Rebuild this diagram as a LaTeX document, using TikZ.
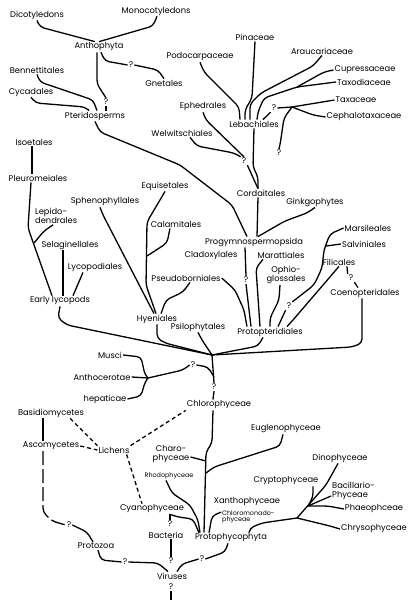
\documentclass[tikz,border=0pt]{standalone}
\usepackage{fontspec}
\setmainfont{Poppins}

\begin{document}
\begin{tikzpicture}[
  x=1pt, y=-1pt,
  lbl/.style={inner sep=1pt, font=\fontsize{8.3}{8.8}\selectfont, align=center},
  sml/.style={lbl, font=\fontsize{6.4}{6.9}\selectfont},
  ln/.style={line width=1.3pt, rounded corners=4pt},
  dsh/.style={line width=1.3pt, dash pattern=on 4pt off 3pt},
  lds/.style={ln, dash pattern=on 14pt off 4pt}
]
\useasboundingbox[fill=white] (0,0) rectangle (414,600);
\node[lbl] (dicot) at (37,15) {Dicotyledons};
\node[lbl] (monoc) at (156,11) {Monocotyledons};
\node[lbl] (antho) at (99,47) {Anthophyta};
\node[lbl] (qgnet) at (131,65) {?};
\node[lbl] (gnet) at (164,83) {Gnetales};
\node[lbl] (benn) at (37,70) {Bennettitales};
\node[lbl] (cycad) at (31,92) {Cycadales};
\node[lbl] (qpter) at (106,102) {?};
\node[lbl] (pter) at (95,116) {Pteridosperms};
\node[lbl] (podo) at (200,57) {Podocarpaceae};
\node[lbl] (pina) at (255,37) {Pinaceae};
\node[lbl] (arau) at (322,51) {Araucariaceae};
\node[lbl] (cupr) at (365,70) {Cupressaceae};
\node[lbl] (taxod) at (364,82) {Taxodiaceae};
\node[lbl] (taxa) at (356,100) {Taxaceae};
\node[lbl] (ceph) at (364,117) {Cephalotaxaceae};
\node[lbl] (qleba) at (274,108) {?};
\node[lbl] (qtaxa) at (279,153) {?};
\node[lbl] (leba) at (254,124) {Lebachiales};
\node[lbl] (ephe) at (203,107) {Ephedrales};
\node[lbl] (welw) at (182,133) {Welwitschiales};
\node[lbl] (qcord) at (244,161) {?};
\node[lbl] (cord) at (261,193) {Cordaitales};
\node[lbl] (gink) at (315,202) {Ginkgophytes};
\node[lbl] (isoet) at (34,142) {Isoetales};
\node[lbl] (pleur) at (38,178) {Pleuromeiales};
\node[lbl, align=left, anchor=west] (lepid) at (34,216) {Lepido-\\dendrales};
\node[lbl] (selag) at (70,245) {Selaginellales};
\node[lbl] (lycop) at (95,267) {Lycopodiales};
\node[lbl] (early) at (60,301) {Early lycopods};
\node[lbl] (sphen) at (105,202) {Sphenophyllales};
\node[lbl] (equis) at (165,186) {Equisetales};
\node[lbl] (calam) at (176,224) {Calamitales};
\node[lbl] (pseud) at (186,278) {Pseudoborniales};
\node[lbl] (hyen) at (157,319) {Hyeniales};
\node[lbl] (psilo) at (198,327) {Psilophytales};
\node[lbl] (progy) at (254,242) {Progymnospermopsida};
\node[lbl] (clado) at (211,255) {Cladoxylales};
\node[lbl] (maratt) at (281,255) {Marattiales};
\node[lbl] (ophio) at (286,275) {Ophio-\\glossales};
\node[lbl] (qprog) at (246,280) {?};
\node[lbl] (marsi) at (368,228) {Marsileales};
\node[lbl] (salvi) at (364,244) {Salviniales};
\node[lbl] (filic) at (339,262) {Filicales};
\node[lbl] (qfilic) at (351,278) {?};
\node[lbl] (coeno) at (365,293) {Coenopteridales};
\node[lbl] (qmars) at (289,306) {?};
\node[lbl] (proto) at (270,332) {Protopteridiales};
\node[lbl] (musci) at (110,355) {Musci};
\node[lbl] (antc) at (102,377) {Anthocerotae};
\node[lbl] (hepat) at (105,399) {hepaticae};
\node[lbl] (qbryo) at (193,365) {?};
\node[lbl] (qchlo) at (214,387) {?};
\node[lbl] (chloro) at (219,405) {Chlorophyceae};
\node[lbl] (basid) at (51,413) {Basidiomycetes};
\node[lbl] (ascom) at (51,446) {Ascomycetes};
\node[lbl] (lich) at (114,450) {Lichens};
\node[lbl] (charo) at (171,454) {Charo-\\phyceae};
\node[sml] (rhodo) at (169,476) {Rhodophyceae};
\node[lbl] (eugl) at (286,429) {Euglenophyceae};
\node[lbl] (dino) at (340,458) {Dinophyceae};
\node[lbl] (crypt) at (286,481) {Cryptophyceae};
\node[lbl, align=left, anchor=west] (bacil) at (331,491) {Bacillario-\\Phyceae};
\node[lbl] (xanth) at (247,502) {Xanthophyceae};
\node[sml, align=left, anchor=west] (chlmo) at (221,517) {Chloromonado-\\phyceae};
\node[lbl] (phaeo) at (374,509) {Phaeophceae};
\node[lbl] (chrys) at (374,529) {Chrysophyceae};
\node[lbl] (cyano) at (152,509) {Cyanophyceae};
\node[lbl] (qbact) at (170,524) {?};
\node[lbl] (bact) at (166,535) {Bacteria};
\node[lbl] (proph) at (231,538) {Protophycophyta};
\node[lbl] (qprot) at (69,525) {?};
\node[lbl] (protz) at (96,546) {Protozoa};
\node[lbl] (qvir1) at (125,562) {?};
\node[lbl] (qvir2) at (171,561) {?};
\node[lbl] (qvir3) at (202,559) {?};
\node[lbl] (vir) at (172,576) {Viruses};
\node[lbl] (qbot) at (171,587) {?};
\coordinate (j0) at (212,355);
\coordinate (jtax) at (292,107);
\coordinate (jcup) at (297,87);
\coordinate (jlyc) at (34,243);
\coordinate (jequ) at (147,256);
\coordinate (jsal) at (326,246);
\coordinate (jbryo) at (148,378);
\coordinate (jalg) at (297,518);
\coordinate (jcry) at (308,506);
\coordinate (tch) at (206,461);
\coordinate (teu) at (206,473);
\coordinate (bot) at (171,600);
\draw[ln] (dicot.south) -- (40,27) -- ([xshift=-4pt]antho.north);
\draw[ln] ([xshift=1pt]monoc.south) -- (153,26) -- (antho.north);
\draw[ln] ([xshift=2pt]antho.south) -- (105,61) -- (qgnet.west);
\draw[ln] (qgnet.east) -- (158,70) -- (gnet.north);
\draw[ln] ([xshift=-2pt]antho.south) -- (97,84) -- (qpter.north);
\draw[ln] (qpter.south) -- (qpter.south |- pter.north);
\draw[ln] (benn.south) -- (40,82) -- (93,100) -- ([xshift=2pt]pter.north);
\draw[ln] (cycad.south) -- (36,103) -- (85,107) -- ([xshift=-6pt]pter.north);
\draw[ln] (pter.south) -- (100,132) -- (180,165) -- (232,205) -- ([xshift=-7pt]progy.north);
\draw[ln] (pina.south) -- (252,98) -- (245,110) -- ([xshift=-9pt]leba.north);
\draw[ln] (podo.south) -- (204,72) -- (239,107) -- ([xshift=-14pt]leba.north);
\draw[ln] (arau.south) -- (313,66) -- (261,93) -- (250,104) -- ([xshift=-4pt]leba.north);
\draw[ln] (cupr.west) -- (324,72) -- (jcup);
\draw[ln] (taxod.west) -- (jcup) -- (264,98) -- (258,112) -- ([xshift=3pt]leba.north);
\draw[ln] (taxa.west) -- (jtax);
\draw[ln] (ceph.west) -- (313,115) -- (jtax);
\draw[ln] (jtax) -- (qleba.east);
\draw[ln] (qleba.south west) -- ([xshift=9pt]leba.north);
\draw[ln] (jtax) -- (284,118) -- (280,145) -- (qtaxa.north);
\draw[ln] (ephe.south) -- (206,120) -- (qcord.north);
\draw[ln] ([xshift=8pt]welw.south) -- (197,146) -- (234,153) -- (qcord.north west);
\draw[ln] (leba.south) -- (253,167) -- (258,177) -- ([xshift=-3pt]cord.north);
\draw[ln] (qcord.south east) -- ([xshift=-3pt]cord.north);
\draw[ln] ([xshift=-3pt]cord.south) -- ([xshift=3pt]progy.north);
\draw[ln] (gink.south) -- (307,213) -- (285,221) -- ([xshift=4pt]progy.north);
\draw[ln] ([xshift=-9pt]progy.south) -- (qprog.north);
\draw[ln] (qprog.south) -- ([xshift=-19pt]proto.north);
\draw[ln] (pseud.east) -- (235,290) -- (244,310) -- ([xshift=-23pt]proto.north);
\draw[ln] ([xshift=-18pt]maratt.south) -- (256,268) -- ([xshift=-10pt]proto.north);
\draw[ln] ([xshift=-6pt]ophio.south) -- (279,300) -- (270,318) -- (proto.north);
\draw[ln] (marsi.west) -- (330,234) -- (324,250) -- (322,268) -- (314,285) -- (qmars.north east);
\draw[ln] (salvi.west) -- (jsal);
\draw[ln] (qmars.south west) -- ([xshift=8pt]proto.north);
\draw[ln] (filic.south) -- (293,320) -- ([xshift=17pt]proto.north);
\draw[ln] ([xshift=8pt]filic.south) -- (qfilic.north west);
\draw[ln] (qfilic.south east) -- ([xshift=-7pt]coeno.north);
\draw[ln] ([xshift=-3pt]coeno.south) -- (362,343) -- (352,347) -- (j0);
\draw[ln] ([xshift=-7pt]proto.south) -- (258,346) -- (j0);
\draw[ln] ([xshift=-2pt]isoet.south) -- ([xshift=-6pt]pleur.north);
\draw[ln] ([xshift=-7pt]pleur.south) -- (28,228) -- ([xshift=-8pt]early.north);
\draw[ln] ([xshift=-3pt]lepid.south) -- (44,231) -- (jlyc);
\draw[ln] ([xshift=-7pt]selag.south) -- ([xshift=3pt]early.north);
\draw[ln] ([xshift=-12pt]lycop.south) -- ([xshift=13pt]early.north);
\draw[ln] (early.south) -- (58,318) -- (67,325) -- (j0);
\draw[ln] ([xshift=-5pt]sphen.south) -- (103,215) -- ([xshift=-3pt]hyen.north);
\draw[ln] (equis.south) -- (147,222) -- (146,285) -- ([xshift=-1pt]hyen.north);
\draw[ln] ([xshift=-6pt]calam.south) -- (167,243) -- (jequ);
\draw[ln] ([xshift=4pt]pseud.south) -- (183,292) -- (166,300) -- ([xshift=4pt]hyen.north);
\draw[ln] (hyen.south) -- (157,338) -- (165,343) -- (j0);
\draw[ln] (psilo.south) -- (202,340) -- (j0);
\draw[ln] (musci.east) -- (141,357) -- (145,375) -- (jbryo);
\draw[ln] (antc.east) -- (jbryo);
\draw[ln] (hepat.east) -- (141,396) -- (145,382) -- (jbryo);
\draw[ln] (jbryo) -- (183,370) -- (qbryo.west);
\draw[ln] (qbryo.east) -- (208,367) -- ([yshift=6pt]qchlo.north);
\draw[ln] (j0) -- (qchlo.north);
\draw[ln] (qchlo.south) -- ([xshift=-6pt]chloro.north);
\draw[ln] ([xshift=-6pt]chloro.south) -- (212,443) -- (206,452) -- ([xshift=-27pt]proph.north);
\draw[ln] ([yshift=-3pt]charo.east) -- (tch);
\draw[ln] ([xshift=-3pt]eugl.south) -- (280,446) -- (214,467) -- (teu);
\draw[ln] ([xshift=-2pt]dino.south) -- (326,485) -- (jalg);
\draw[ln] ([xshift=27pt]crypt.south) -- (313,497) -- (jcry);
\draw[ln] ([yshift=-5pt]bacil.west) -- (jcry);
\draw[ln] (phaeo.west) -- (328,506) -- (jcry);
\draw[ln] (chrys.west) -- (330,526) -- (jalg);
\draw[ln] (jalg) -- (262,523) -- (250,528) -- ([xshift=18pt]proph.north);
\draw[ln] ([yshift=-3pt]chlmo.north west) -- (212,516) -- ([xshift=-22pt]proph.north);
\draw[ln] ([xshift=-3pt]rhodo.south) -- (172,493) -- (190,505) -- (198,520) -- ([xshift=-31pt]proph.north);
\draw[ln] ([xshift=18pt]cyano.south) -- (178,517) -- (193,519) -- ([xshift=-32pt]proph.north);
\draw[ln] ([xshift=18pt]cyano.south) -- (qbact.north);
\draw[ln] ([xshift=5pt]bact.south) -- (qvir2.north);
\draw[ln] (qbot.south) -- (bot);
\draw[ln] ([xshift=-8pt]basid.south) -- ([xshift=-8pt]ascom.north);
\draw[lds] ([xshift=-8pt]ascom.south) -- (43,512) -- (52,521) -- (qprot.west);
\draw[ln] (qprot.east) -- (87,532) -- ([xshift=-3pt]protz.north);
\draw[ln] ([xshift=2pt]protz.south) -- (101,560) -- (qvir1.west);
\draw[ln] (qvir1.east) -- (158,563) -- ([xshift=-4pt]vir.north);
\draw[ln] ([xshift=5pt]vir.north) -- (182,564) -- (qvir3.west);
\draw[ln] (qvir3.east) -- (225,552) -- ([xshift=-3pt]proph.south);
\draw[dsh] ([xshift=-15pt]basid.south east) -- (lich.north west);
\draw[dsh] (ascom.east) -- (lich.west);
\draw[dsh] (lich.north east) -- (chloro.south west);
\draw[dsh] ([xshift=-4pt]lich.south east) -- ([xshift=-10pt]cyano.north);
\end{tikzpicture}
\end{document}
